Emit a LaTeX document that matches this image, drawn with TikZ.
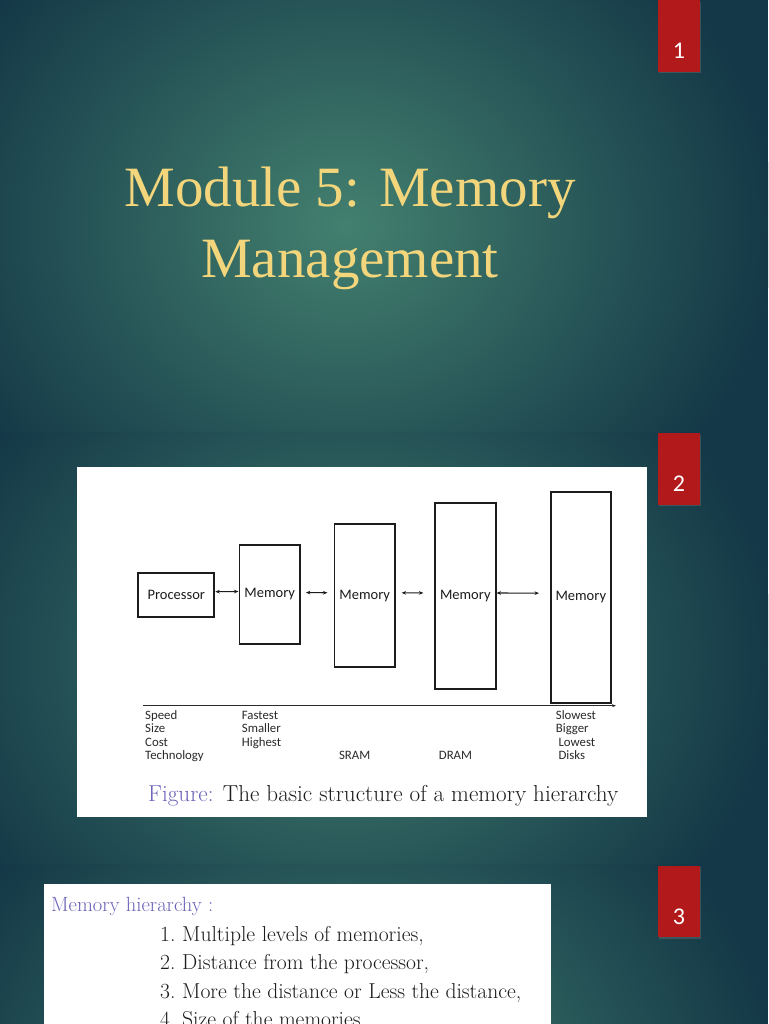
\documentclass[tikz,border=0pt]{standalone}
\usepackage{fontspec}
\usetikzlibrary{arrows.meta,shadows}
\newfontfamily\titlefont{Liberation Serif}
\newfontfamily\calfont{Carlito}
\definecolor{bgdark}{HTML}{143847}
\definecolor{bglight}{HTML}{43806F}
\definecolor{titleyellow}{HTML}{F3D67B}
\definecolor{slidered}{HTML}{B2191A}
\definecolor{figpurple}{HTML}{6A62B8}
\definecolor{inkgray}{HTML}{1C1C1C}
\definecolor{lblgray}{HTML}{2A2A2A}
\tikzset{
  redbox/.style={fill=slidered, minimum width=42.6pt, minimum height=71.5pt, inner sep=0pt,
    drop shadow={opacity=0.35, shadow xshift=1pt, shadow yshift=-1.5pt}},
  pagenum/.style={anchor=base, text=white, font=\calfont\fontsize{24}{28}\selectfont, inner sep=0pt},
  titletxt/.style={anchor=base, text=titleyellow, font=\titlefont\fontsize{57}{66}\selectfont, inner sep=0pt},
  memblock/.style={draw=inkgray, line width=1.9pt, inner sep=0pt, minimum width=60.5pt,
    font=\calfont\fontsize{14.5}{17}\selectfont, text=inkgray},
  link/.style={{Stealth[length=4.5pt,width=3.6pt]}-{Stealth[length=4.5pt,width=3.6pt]}, line width=1.1pt, draw=inkgray},
  rowtxt/.style={anchor=base west, inner sep=0pt, font=\calfont\fontsize{12.8}{13.3}\selectfont, text=lblgray},
  captxt/.style={anchor=base west, inner sep=0pt, font=\fontsize{23.1}{27}\selectfont, text=inkgray},
  itemtxt/.style={anchor=base west, inner sep=0pt, font=\fontsize{21.6}{26}\selectfont, text=inkgray},
}
\begin{document}
\begin{tikzpicture}[x=1pt,y=-1pt]
\useasboundingbox (0,0) rectangle (768,1024);
\clip (0,0) rectangle (768,1024);
% slide backgrounds
\foreach \oy in {0,432,864}{
  \begin{scope}
    \clip (0,\oy) rectangle (768,\oy+432);
    \fill[bgdark] (0,\oy) rectangle (768,\oy+432);
    \shade[inner color=bglight, outer color=bgdark] (345,\oy+225) ellipse (430 and 370);
  \end{scope}
}
% slide 1
\node[redbox] (box1) at (679,35.8) {};
\node[pagenum] (num1) at (679,59) {1};
\node[titletxt] (title1) at (350,207) {Module 5: Memory};
\node[titletxt] (title2) at (350,277) {Management};
% slide 2
\node[redbox] (box2) at (679,468.8) {};
\node[pagenum] (num2) at (679,491.5) {2};
\fill[white] (77,467) rectangle (647,817);
\node[memblock, minimum width=76pt, minimum height=44pt] (proc) at (176.3,594.7) {Processor};
\node[memblock, minimum height=98.4pt] (mem1) at (269.7,594.5) {Memory};
\node[memblock, minimum height=143pt] (mem2) at (364.7,595.8) {Memory};
\node[memblock, minimum height=185.4pt] (mem3) at (465.3,596) {Memory};
\node[memblock, minimum width=60.3pt, minimum height=211pt] (mem4) at (580.8,597.2) {Memory};
\draw[link] ([yshift=3pt]proc.east) -- ([yshift=3pt]mem1.west);
\draw[link, shorten <=5pt, shorten >=6pt] ([yshift=2pt]mem1.east) -- ([yshift=3pt]mem2.west);
\draw[link, shorten <=5.7pt, shorten >=10.7pt] ([yshift=3pt]mem2.east) -- ([yshift=3pt]mem3.west);
\draw[link, shorten >=10.7pt] ([yshift=3pt]mem3.east) -- ([yshift=4pt]mem4.west);
\coordinate (axL) at (143,705.7);
\coordinate (axR) at (616,705.7);
\draw[-{Stealth[length=4pt,width=3pt]}, line width=1.1pt, draw=lblgray] (axL) -- (axR);
\node[rowtxt] (speed) at (145,719.5) {Speed};
\node[rowtxt] (size) at (145,732.8) {Size};
\node[rowtxt] (cost) at (145,746.1) {Cost};
\node[rowtxt] (tech) at (145,759.4) {Technology};
\node[rowtxt] (fastest) at (241.7,719.5) {Fastest};
\node[rowtxt] (smaller) at (241.7,732.8) {Smaller};
\node[rowtxt] (highest) at (241.7,746.1) {Highest};
\node[rowtxt, anchor=base] (sram) at (354.7,759.4) {SRAM};
\node[rowtxt, anchor=base] (dram) at (455.5,759.4) {DRAM};
\node[rowtxt] (slowest) at (555.7,719.5) {Slowest};
\node[rowtxt] (bigger) at (555.7,732.8) {Bigger};
\node[rowtxt] (lowest) at (558.3,746.1) {Lowest};
\node[rowtxt] (disks) at (558.3,759.4) {Disks};
\node[captxt] (caption) at (148,801) {\textcolor{figpurple}{Figure:} The basic structure of a memory hierarchy};
% slide 3
\node[redbox] (box3) at (679,901.7) {};
\node[pagenum] (num3) at (679,924.5) {3};
\fill[white] (44,884) rectangle (551,1040);
\node[itemtxt, text=figpurple, font=\fontsize{20.6}{25}\selectfont] (mh) at (51,911) {Memory hierarchy :};
\node[itemtxt] (item1) at (160,941) {\makebox[22pt][l]{1.}Multiple levels of memories,};
\node[itemtxt] (item2) at (160,969.5) {\makebox[22pt][l]{2.}Distance from the processor,};
\node[itemtxt] (item3) at (160,998) {\makebox[22pt][l]{3.}More the distance or Less the distance,};
\node[itemtxt] (item4) at (160,1026.5) {\makebox[22pt][l]{4.}Size of the memories};
\end{tikzpicture}
\end{document}
